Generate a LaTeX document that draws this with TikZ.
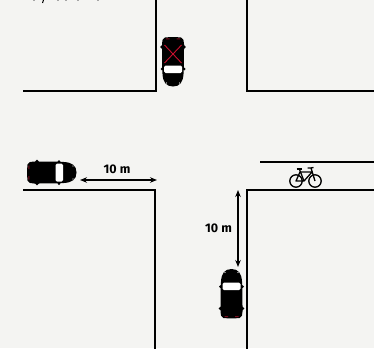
\documentclass[tikz,border=0pt]{standalone}
\usepackage{fontspec}
\setmainfont{Fira Sans}
\usetikzlibrary{arrows.meta,calc}
\definecolor{RoadGrey}{HTML}{F4F4F2}
\definecolor{BrakeRed}{HTML}{C8102E}
\tikzset{
  kerb/.style={line width=2.4pt,black,line cap=rect},
  gauge/.style={line width=1.2pt,{Stealth[length=7pt,width=5.5pt]}-{Stealth[length=7pt,width=5.5pt]}},
  gaugelabel/.style={font=\fontsize{12.5}{14}\selectfont\bfseries,inner sep=0pt},
  pics/autocar/.style={code={
    % car points up, origin in its middle
    \fill[black] (-8,24.5) .. controls (-10.5,24) and (-11,21) .. (-11,18)
      .. controls (-11,8) and (-11,-5) .. (-10.5,-12)
      .. controls (-10,-20) and (-7,-24.5) .. (0,-24.5)
      .. controls (7,-24.5) and (10,-20) .. (10.5,-12)
      .. controls (11,-5) and (11,8) .. (11,18)
      .. controls (11,21) and (10.5,24) .. (8,24.5)
      .. controls (4,25) and (-4,25) .. (-8,24.5) -- cycle;
    \fill[black] (-11,-7) circle (1.5) (11,-7) circle (1.5) (-11,15) circle (1.8) (11,15) circle (1.8);
    \fill[white,rounded corners=1.5pt] (-9,-11) rectangle (9,-3.5);
    \fill[white] (-6.5,-21) circle (0.7) (6.5,-21) circle (0.7);
    \fill[BrakeRed!60!black] (-7,22.7) rectangle (-3.5,23.7) (3.5,22.7) rectangle (7,23.7);
  }},
}
\begin{document}
\begin{tikzpicture}[x=1pt,y=-1pt,>=Stealth]
  \useasboundingbox[fill=RoadGrey] (0,0) rectangle (374,348);
  % kerbs
  \draw[kerb] (24,91)--(156,91)--(156,0);
  \draw[kerb] (247,0)--(247,91)--(374,91);
  \draw[kerb] (24,190)--(155,190)--(155,348);
  \draw[kerb] (374,190)--(247,190)--(247,348);
  \draw[kerb] (261,162)--(374,162);
  % cut off line of text at the top
  \draw[line width=1pt] (43.5,0)--(42.5,3);
  \foreach \x in {33,57,65,77,97}{
    \fill[black!35] (\x,0) rectangle +(2,0.8);
  }
  % cars
  \pic at (173,62) [rotate=180] {autocar};
  \pic at (52,172.5) [rotate=-90] {autocar};
  \pic at (231.5,293.5) {autocar};
  \coordinate (crossa) at (164.5,45);
  \coordinate (crossb) at (181.5,63);
  \coordinate (crossc) at (181.5,45);
  \coordinate (crossd) at (164.5,63);
  \draw[BrakeRed,line width=0.9pt] (crossa)--(crossb) (crossc)--(crossd);
  % distances
  \node (lblh) [gaugelabel] at (117,169.5) {10 m};
  \node (lblv) [gaugelabel] at (218.5,228) {10 m};
  \coordinate (hl) at (80,180);
  \coordinate (hr) at (157,180);
  \coordinate (vt) at (238,190);
  \coordinate (vb) at (238,267);
  \draw[gauge] (hl)--(hr);
  \draw[gauge] (vt)--(vb);
  % bicycle
  \begin{scope}[line width=1.3pt,line join=round]
    \draw (296,181) circle (6.2);
    \draw (315,181) circle (6.2);
    \draw (296,181)--(300,172)--(312,172)--(304,181)--cycle;
    \draw (304,181)--(299.5,169.5);
    \draw (296.5,169)--(302,169);
    \draw (315,181)--(311,168)--(307.5,168);
    \draw (311,168)--(313.5,167.5);
  \end{scope}
\end{tikzpicture}
\end{document}
